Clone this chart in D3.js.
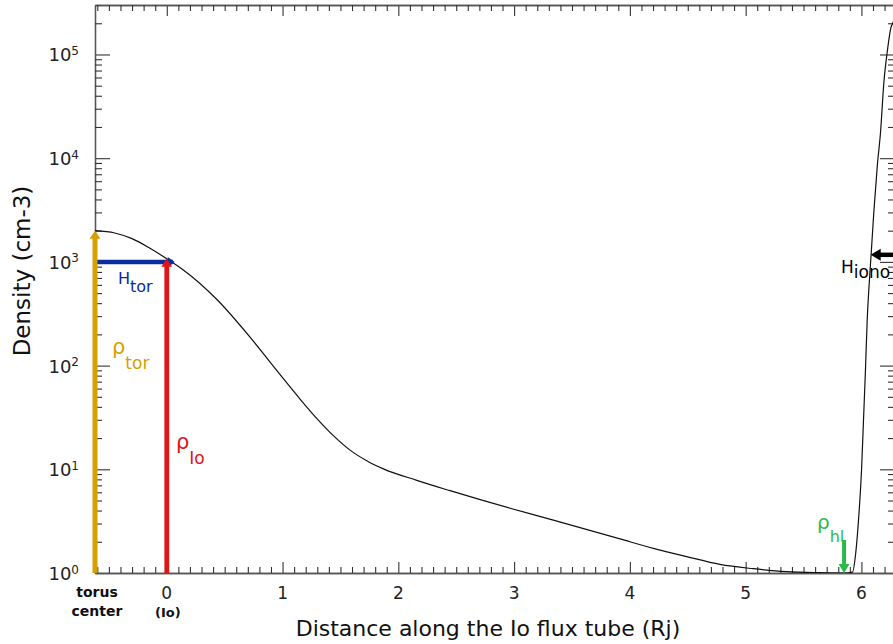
<!DOCTYPE html>
<html><head><meta charset="utf-8">
<script src="https://cdn.jsdelivr.net/npm/d3@7"></script>
<style>body{margin:0;background:#fff} svg{display:block} text{font-family:"DejaVu Sans",sans-serif}</style>
</head><body>
<script>
// ---- data ----
const distance = [-0.62, -0.45, -0.3, -0.145, 0, 0.143, 0.431, 0.719, 0.863, 1.007, 1.151, 1.295, 1.439, 1.583, 1.727, 1.871, 2.159, 2.447, 2.965, 3.339, 3.915, 4.203, 4.49, 4.778, 5.066, 5.354, 5.642, 5.85, 5.923, 5.949, 5.975, 6.001, 6.018, 6.035, 6.05, 6.064, 6.085, 6.107, 6.137, 6.165, 6.194, 6.223, 6.252, 6.275, 6.29];
const density  = [2000, 1900, 1675, 1352, 1072, 836, 436, 188, 119, 74.8, 47.6, 31.0, 21.1, 15.3, 12.1, 10.1, 7.83, 6.22, 4.21, 3.24, 2.13, 1.73, 1.44, 1.21, 1.10, 1.03, 1.007, 1.0, 1.02, 1.49, 3.25, 9.9, 30, 91, 278, 542, 1236, 3000, 8400, 17800, 54000, 106000, 176000, 206000, 220000];
const xMajorTicks = [0, 1, 2, 3, 4, 5, 6];
const xTickLabels = ["0", "1", "2", "3", "4", "5", "6"];
const yMajorTicks = [1, 10, 100, 1000, 10000, 100000];
const yExponents  = ["0", "1", "2", "3", "4", "5"];
const torusCenter = -0.62;   // torus centre position (Rj)
const ioPos = 0;             // Io position
const rhoTor = 2000, rhoIo = 1072, hTorLevel = 1000;
const rhoHlPos = 5.85, rhoHl = 1.0;
const hIonoPos = 6.08, hIonoLevel = 1170;

// ---- layout ----
const W = 893, H = 644;
const svg = d3.select("body").append("svg").attr("width", W).attr("height", H);
svg.append("rect").attr("width", W).attr("height", H).attr("fill", "#fff");

const x = d3.scaleLinear().domain([-0.62, 6.29]).range([95, 895]);
const y = d3.scaleLog().domain([1, 3e5]).range([573, 5]);
const [x0, x1] = x.range(), [yB, yT] = y.range();

const yMinor = [];
yMajorTicks.forEach(v => { for (let m = 2; m <= 9; m++) if (v * m <= 3e5) yMinor.push(v * m); });
const xMinor = d3.range(-6, 63).map(i => i / 10).filter(v => Math.abs(v - Math.round(v)) > 1e-6);

function styleAxis(g) {
  g.select(".domain").attr("stroke", "#555").attr("stroke-width", 1.3);
  g.selectAll(".tick line").attr("stroke", "#333").attr("stroke-width", 1.1);
  g.selectAll(".tick text").remove();
}
// left / right
svg.append("g").attr("transform", `translate(${x0},0)`)
  .call(d3.axisLeft(y).tickValues(yMajorTicks).tickSize(-15).tickSizeOuter(0).tickFormat("")).call(styleAxis);
svg.append("g").attr("transform", `translate(${x0},0)`)
  .call(d3.axisLeft(y).tickValues(yMinor).tickSize(-7).tickSizeOuter(0).tickFormat("")).call(styleAxis);
svg.append("g").attr("transform", `translate(${x1},0)`)
  .call(d3.axisRight(y).tickValues(yMajorTicks).tickSize(-15).tickSizeOuter(0).tickFormat("")).call(styleAxis);
svg.append("g").attr("transform", `translate(${x1},0)`)
  .call(d3.axisRight(y).tickValues(yMinor).tickSize(-7).tickSizeOuter(0).tickFormat("")).call(styleAxis);
// top / bottom
svg.append("g").attr("transform", `translate(0,${yT})`)
  .call(d3.axisTop(x).tickValues(xMajorTicks).tickSize(-11).tickSizeOuter(0).tickFormat("")).call(styleAxis);
svg.append("g").attr("transform", `translate(0,${yT})`)
  .call(d3.axisTop(x).tickValues(xMinor).tickSize(-6).tickSizeOuter(0).tickFormat("")).call(styleAxis);
svg.append("g").attr("transform", `translate(0,${yB})`)
  .call(d3.axisBottom(x).tickValues(xMajorTicks).tickSize(-11).tickSizeOuter(0).tickFormat("")).call(styleAxis);
svg.append("g").attr("transform", `translate(0,${yB})`)
  .call(d3.axisBottom(x).tickValues(xMinor).tickSize(-6).tickSizeOuter(0).tickFormat("")).call(styleAxis);

// y tick labels 10^n
yMajorTicks.forEach((v, i) => {
  const t = svg.append("text").attr("x", 79).attr("y", y(v) + 7).attr("text-anchor", "end")
    .attr("fill", "#222").attr("font-size", 18);
  t.append("tspan").text("10");
  t.append("tspan").attr("dy", -6.5).attr("font-size", 12).text(yExponents[i]);
});
// x tick labels
xMajorTicks.forEach((v, i) => {
  svg.append("text").attr("x", x(v)).attr("y", 599).attr("text-anchor", "middle")
    .attr("fill", "#222").attr("font-size", 17).text(xTickLabels[i]);
});
svg.append("text").attr("x", x(ioPos) + 1).attr("y", 617).attr("text-anchor", "middle")
  .attr("font-size", 13).attr("font-weight", "bold").attr("fill", "#111").text("(Io)");
const tc = svg.append("text").attr("x", x(torusCenter) + 2).attr("text-anchor", "middle")
  .attr("font-size", 14).attr("font-weight", "bold").attr("fill", "#111");
tc.append("tspan").attr("x", x(torusCenter) + 2).attr("y", 597).text("torus");
tc.append("tspan").attr("x", x(torusCenter) + 2).attr("y", 616).text("center");

// axis titles
svg.append("text").attr("x", 488).attr("y", 636).attr("text-anchor", "middle")
  .attr("font-size", 22).attr("fill", "#111").text("Distance along the Io flux tube (Rj)");
svg.append("text").attr("transform", `translate(30,271) rotate(-90)`).attr("text-anchor", "middle")
  .attr("font-size", 23).attr("fill", "#111").text("Density (cm-3)");

// curve
svg.append("clipPath").attr("id", "clip").append("rect")
  .attr("x", x0).attr("y", yT).attr("width", x1 - x0).attr("height", yB - yT);
const pts = distance.map((d, i) => [d, density[i]]);
svg.append("path").datum(pts).attr("clip-path", "url(#clip)")
  .attr("fill", "none").attr("stroke", "#111").attr("stroke-width", 1.2)
  .attr("d", d3.line().x(d => x(d[0])).y(d => y(d[1])).curve(d3.curveMonotoneX));

// annotation helpers
function vArrowUp(xp, yBase, yTip, color, w, hw, hl) {
  svg.append("line").attr("x1", xp).attr("x2", xp).attr("y1", yBase).attr("y2", yTip + hl - 1)
    .attr("stroke", color).attr("stroke-width", w);
  svg.append("path").attr("fill", color)
    .attr("d", `M${xp - hw},${yTip + hl} L${xp + hw},${yTip + hl} L${xp},${yTip} Z`);
}
function label(xp, yp, main, sub, color, fs, sfs, dy) {
  const t = svg.append("text").attr("x", xp).attr("y", yp).attr("fill", color).attr("font-size", fs);
  t.append("tspan").text(main);
  t.append("tspan").attr("dy", dy).attr("font-size", sfs).text(sub);
}

// H_tor blue line
svg.append("line").attr("x1", x(torusCenter)).attr("x2", x(ioPos) + 6)
  .attr("y1", y(hTorLevel)).attr("y2", y(hTorLevel)).attr("stroke", "#0b2c9e").attr("stroke-width", 4.5);
svg.append("path").attr("fill", "#0b2c9e")
  .attr("d", `M${x(ioPos) + 1},${y(hTorLevel) - 5} L${x(ioPos) + 8},${y(hTorLevel)} L${x(ioPos) + 1},${y(hTorLevel) + 5} Z`);
// rho_tor gold arrow
vArrowUp(x(torusCenter), yB, y(rhoTor), "#d6a000", 5, 5.5, 8);
// rho_Io red arrow
vArrowUp(x(ioPos), yB, y(rhoIo), "#e01414", 4.8, 5.5, 8);
// rho_hl green arrow (down)
{
  const xp = x(rhoHlPos), tip = y(rhoHl);
  svg.append("line").attr("x1", xp).attr("x2", xp).attr("y1", 540).attr("y2", tip - 7)
    .attr("stroke", "#2cbb48").attr("stroke-width", 4);
  svg.append("path").attr("fill", "#2cbb48")
    .attr("d", `M${xp - 5.5},${tip - 9} L${xp + 5.5},${tip - 9} L${xp},${tip} Z`);
}
// H_iono black arrow (left)
{
  const yp = y(hIonoLevel), tip = x(hIonoPos);
  svg.append("line").attr("x1", tip + 8).attr("x2", W + 5).attr("y1", yp).attr("y2", yp)
    .attr("stroke", "#000").attr("stroke-width", 4.5);
  svg.append("path").attr("fill", "#000")
    .attr("d", `M${tip + 10},${yp - 6} L${tip + 10},${yp + 6} L${tip},${yp} Z`);
}

// labels
label(118, 283.5, "H", "tor", "#0b2c9e", 16, 16, 8);
label(112, 354, "ρ", "tor", "#d6a000", 21, 17, 15);
label(176, 449, "ρ", "Io", "#e01414", 21, 17, 15);
label(817, 529, "ρ", "hl", "#2cbb48", 20, 16, 13);
label(841, 273, "H", "iono", "#000", 17, 17, 5);
</script>
</body></html>
